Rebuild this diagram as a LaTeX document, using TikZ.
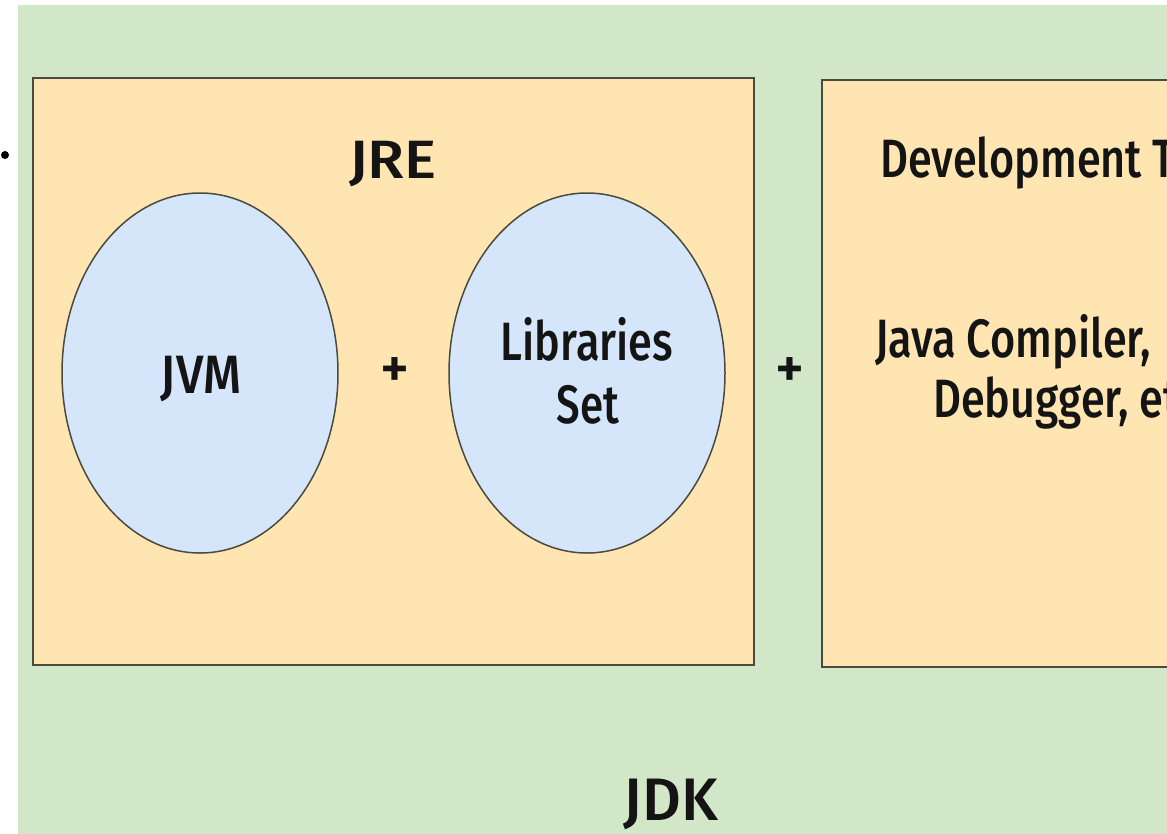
\documentclass[tikz,border=0pt]{standalone}
\usepackage{fontspec}
\setmainfont{Fira Sans}[UprightFont=* Medium]
\usetikzlibrary{shapes.geometric}
\definecolor{jdkgreen}{HTML}{D1E7C8}
\definecolor{jreyellow}{HTML}{FFE5B1}
\definecolor{ovalblue}{HTML}{D5E5FA}
\definecolor{edgegray}{HTML}{4A4A3E}
\newcommand{\sqz}[2]{\scalebox{#1}[1]{#2}}
\tikzset{
  box/.style={fill=jreyellow, draw=edgegray, line width=2.4pt},
  oval/.style={ellipse, fill=ovalblue, draw=edgegray, line width=1.5pt, inner sep=0pt},
  lbl/.style={font=\fontsize{54}{63}\selectfont, inner sep=0pt, text=black!92},
  plus/.style={font=\fontsize{56}{56}\selectfont, inner sep=0pt, text=black!92}
}
\begin{document}
\begin{tikzpicture}[x=1pt,y=-1pt]
\useasboundingbox (0,0) rectangle (1167,833);
\clip (0,0) rectangle (1167,833);
\fill[white] (0,0) rectangle (1167,833);
\fill[jdkgreen] (18,5) rectangle (1180,840);
\fill[black] (5,155) circle (4);
% JRE box
\draw[box] (33,78) rectangle (754,665);
% Dev box
\draw[box] (822,80) rectangle (1190,667);
% ovals
\node[oval, minimum width=276pt, minimum height=360pt] (jvm) at (200,373) {};
\node[oval, minimum width=276pt, minimum height=360pt] (lib) at (587,373) {};
% labels
\node[lbl, anchor=base] (jre) at (393,178) {\sqz{1.12}{JRE}};
\node[lbl, anchor=base] (jvmt) at (201,393) {\sqz{0.9}{JVM}};
\node[lbl, anchor=base] (libt1) at (587,360) {\sqz{0.8}{Libraries}};
\node[lbl, anchor=base] (libt2) at (588,423) {\sqz{0.78}{Set}};
\node[plus] (p1) at (395,373) {+};
\node[plus] (p2) at (790,373) {+};
\node[lbl, anchor=base west] (dev) at (880,177) {\sqz{0.8}{Development T}};
\node[lbl, anchor=base west] (jc) at (875,357) {\sqz{0.8}{Java Compiler,}};
\node[lbl, anchor=base west] (dbg) at (933,417) {\sqz{0.8}{Debugger, et}};
\node[lbl, font=\fontsize{60}{60}\selectfont, anchor=base] (jdk) at (671,820) {JDK};
\end{tikzpicture}
\end{document}
